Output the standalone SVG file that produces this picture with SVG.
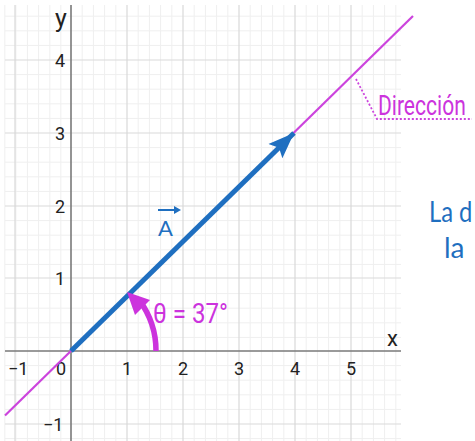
<svg xmlns="http://www.w3.org/2000/svg" width="475" height="441" viewBox="0 0 475 441">
<style>
.minor{stroke:#efefef;stroke-width:1;fill:none}
.major{stroke:#d9d9d9;stroke-width:1.2;fill:none}
.axis{stroke:#7a7a7a;stroke-width:1.6;fill:none}
.tick{font-family:"Roboto","Liberation Sans",Arial,sans-serif;font-size:18px;fill:#222}
.mag{fill:#cc33dd;font-family:"Roboto","Liberation Sans",sans-serif}
.blue{fill:#1f6fc0;font-family:"Lato","Noto Sans",sans-serif}
</style>
<defs>
<marker id="vhead" markerUnits="userSpaceOnUse" markerWidth="30" markerHeight="24" refX="26" refY="11" orient="auto">
<path d="M0,1 L26,11 L0,21 L5,11 Z" fill="#1f6fc0"/>
</marker>
</defs>
<g id="grid">
<path class="minor" d="M4.8,5V441M15.9,5V441M27.4,5V441M38.6,5V441M49.8,5V441M60.8,5V441M82.2,5V441M93.4,5V441M104.6,5V441M115.8,5V441M138.2,5V441M149.4,5V441M160.6,5V441M171.8,5V441M194.2,5V441M205.4,5V441M216.6,5V441M227.8,5V441M250.2,5V441M261.4,5V441M272.6,5V441M283.8,5V441M306.2,5V441M317.4,5V441M328.6,5V441M339.8,5V441M362.2,5V441M373.4,5V441M384.6,5V441M395.8,5V441"/>
<path class="minor" d="M5,16.2H401M5,30.8H401M5,45.4H401M5,74.6H401M5,89.2H401M5,103.8H401M5,118.4H401M5,147.6H401M5,162.2H401M5,176.8H401M5,191.4H401M5,220.6H401M5,235.2H401M5,249.8H401M5,264.4H401M5,293.6H401M5,308.2H401M5,322.8H401M5,337.4H401M5,365.6H401M5,380.2H401M5,394.8H401M5,409.4H401M5,438.6H401"/>
<path class="major" d="M15,5V441M127,5V441M183,5V441M239,5V441M295,5V441M351,5V441M5,60H401M5,133H401M5,206H401M5,278H401M5,424H401"/>
<path class="axis" d="M5,351H401M71,5V441"/>
</g>
<g id="tick-labels" class="tick">
<text x="8" y="375">−1</text>
<text x="56" y="375">0</text>
<text x="122" y="375">1</text>
<text x="178" y="375">2</text>
<text x="234" y="375">3</text>
<text x="290" y="375">4</text>
<text x="346" y="375">5</text>
<text x="55" y="67">4</text>
<text x="55" y="140">3</text>
<text x="55" y="213">2</text>
<text x="55" y="285">1</text>
<text x="43" y="431">−1</text>
<text x="55" y="27" font-size="25">y</text>
<text x="387" y="346" font-size="22">x</text>
</g>
<g id="connectors">
<line id="direction-line" x1="5" y1="415.5" x2="413" y2="16" stroke="#cc44dd" stroke-width="2.2"/>
<line id="vector-A" x1="71" y1="351" x2="294" y2="133" stroke="#1f6fc0" stroke-width="5" marker-end="url(#vhead)"/>
<path id="angle-arc" d="M156,351 A85,85 0 0 0 139.5,300.5" fill="none" stroke="#cc33dd" stroke-width="5.5"/>
<polygon points="127,292 150,300 135,315" fill="#cc33dd"/>
<polyline points="356,79 377,119 472,119" fill="none" stroke="#cc44dd" stroke-width="1.8" stroke-dasharray="2,2"/>
</g>
<g id="label-A">
<text class="blue" x="158" y="236" font-size="22" font-family="Roboto,sans-serif">A</text>
<line x1="158" y1="210" x2="176" y2="210" stroke="#1f6fc0" stroke-width="2"/>
<path d="M174,206 L181,210 L174,214 Z" fill="#1f6fc0"/>
</g>
<g id="label-theta">
<text class="mag" x="153" y="323" font-size="28" textLength="75" lengthAdjust="spacingAndGlyphs">θ = 37°</text>
</g>
<g id="label-direccion">
<text class="mag" transform="translate(378,115) scale(0.78,1)" x="0" y="0" font-size="27">Dirección</text>
</g>
<g id="text-right" class="blue">
<text transform="translate(429,222) scale(0.85,1)" x="0" y="0" font-size="28">La d</text>
<text x="444" y="258" font-size="28">la</text>
</g>
</svg>
